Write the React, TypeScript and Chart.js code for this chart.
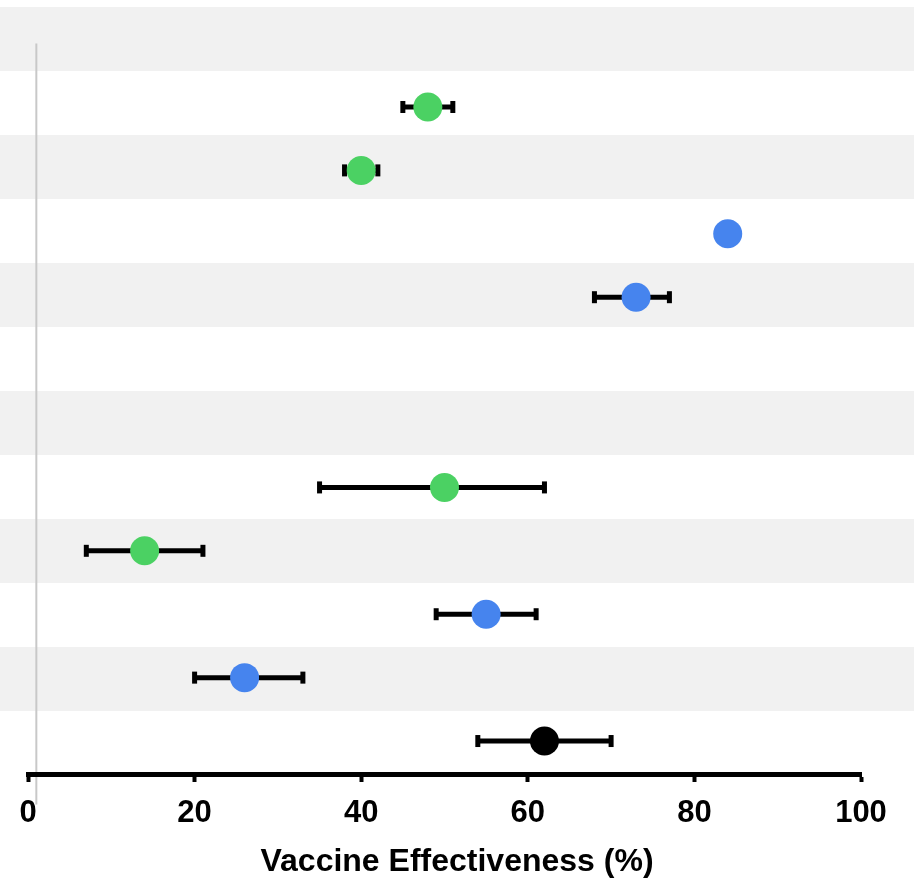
import React, { useEffect, useRef } from "react";
import { Chart, registerables } from "chart.js";

Chart.register(...registerables);

// Rows from top (0) to bottom (11); null = empty row
const rowIndex = [0, 1, 2, 3, 4, 5, 6, 7, 8, 9, 10, 11];
const estimates = [null, 48, 40, 84, 73, null, null, 50, 14, 55, 26, 62];
const lowerCI = [null, 45, 38, null, 68, null, null, 35, 7, 49, 20, 54];
const upperCI = [null, 51, 42, null, 77, null, null, 62, 21, 61, 33, 70];
const pointColors = [
  "#000000", "#4bd163", "#4bd163", "#4684ee", "#4684ee", "#000000",
  "#000000", "#4bd163", "#4bd163", "#4684ee", "#4684ee", "#000000",
];
const xTicks = [0, 20, 40, 60, 80, 100];
const referenceValue = 1;
const axisTitle = "Vaccine Effectiveness (%)";

const FONT = "'Liberation Sans', Arial, Helvetica, sans-serif";

const bgPlugin = {
  id: "bgBands",
  beforeDraw(chart: any) {
    const { ctx, chartArea, scales } = chart;
    const n = rowIndex.length;
    const top = chartArea.top;
    const h = (chartArea.bottom + 1 - chartArea.top) / n;
    ctx.save();
    ctx.fillStyle = "#f1f1f1";
    for (let i = 0; i < n; i += 2) {
      ctx.fillRect(0, top + i * h, chart.width - 8, h);
    }
    // reference line
    const x = scales.x.getPixelForValue(referenceValue);
    ctx.strokeStyle = "#c8c8c8";
    ctx.lineWidth = 2;
    ctx.beginPath();
    ctx.moveTo(x, scales.y.getPixelForValue(0));
    ctx.lineTo(x, scales.y.getPixelForValue(rowIndex.length));
    ctx.stroke();
    ctx.restore();
  },
  beforeDatasetsDraw(chart: any) {
    const { ctx, scales } = chart;
    ctx.save();
    ctx.strokeStyle = "#000";
    ctx.fillStyle = "#000";
    ctx.lineWidth = 5;
    for (let i = 0; i < rowIndex.length; i++) {
      const lo = lowerCI[i];
      const hi = upperCI[i];
      if (lo == null || hi == null) continue;
      const y = scales.y.getPixelForValue(rowIndex[i]);
      const x1 = scales.x.getPixelForValue(lo);
      const x2 = scales.x.getPixelForValue(hi);
      ctx.beginPath();
      ctx.moveTo(x1, y);
      ctx.lineTo(x2, y);
      ctx.stroke();
      ctx.fillRect(x1 - 2.5, y - 6, 5, 12);
      ctx.fillRect(x2 - 2.5, y - 6, 5, 12);
    }
    ctx.restore();
  },
  afterDraw(chart: any) {
    const { ctx } = chart;
    ctx.save();
    ctx.fillStyle = "#000";
    ctx.font = `bold 32px ${FONT}`;
    ctx.textAlign = "center";
    ctx.textBaseline = "middle";
    ctx.fillText(axisTitle, (chart.width - 8) / 2, chart.height - 19);
    ctx.restore();
  },
};

export default function App() {
  const ref = useRef<HTMLCanvasElement>(null);
  useEffect(() => {
    if (!ref.current) return;
    const data = rowIndex
      .map((r, i) => (estimates[i] == null ? null : { x: estimates[i] as number, y: r }))
      .filter((d) => d !== null) as { x: number; y: number }[];
    const colors = rowIndex
      .map((r, i) => (estimates[i] == null ? null : pointColors[i]))
      .filter((c) => c !== null) as string[];
    const chart = new Chart(ref.current, {
      type: "scatter",
      data: {
        datasets: [
          {
            data,
            pointRadius: 14.5,
            pointHoverRadius: 14.5,
            pointBackgroundColor: colors,
            pointBorderWidth: 0,
            pointBorderColor: colors,
            clip: false,
          },
        ],
      },
      options: {
        animation: false,
        responsive: false,
        events: [],
        layout: { autoPadding: false, padding: { left: 28, right: 61, top: 7, bottom: 0 } },
        plugins: { legend: { display: false }, tooltip: { enabled: false } },
        scales: {
          x: {
            type: "linear",
            min: 0,
            max: 100,
            afterFit: (s: any) => {
              s.height = 107;
            },
            afterBuildTicks: (s: any) => {
              s.ticks = xTicks.map((v) => ({ value: v }));
            },
            border: { display: true, color: "#000", width: 5 },
            grid: {
              drawOnChartArea: false,
              drawTicks: true,
              tickLength: 8,
              tickWidth: 4,
              tickColor: "#000",
            },
            ticks: {
              color: "#000",
              padding: 13,
              maxRotation: 0,
              font: { family: FONT, size: 31, weight: "bold" },
            },
            title: { display: false, text: axisTitle },
          },
          y: {
            type: "linear",
            display: false,
            reverse: true,
            min: -0.577,
            max: 11.52,
          },
        },
      },
      plugins: [bgPlugin],
    });
    return () => chart.destroy();
  }, []);
  return (
    <div style={{ position: "absolute", left: 0, top: 0, width: 922, height: 881 }}>
      <canvas ref={ref} width={922} height={881} style={{ display: "block" }} />
    </div>
  );
}
